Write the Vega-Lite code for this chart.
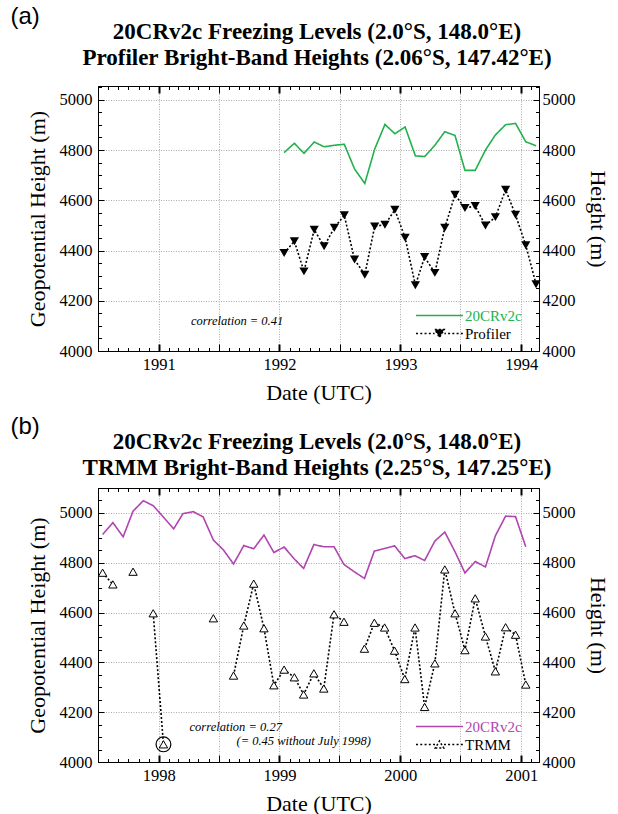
{
  "$schema": "https://vega.github.io/schema/vega-lite/v6.json",
  "padding": {"left": 10, "top": 4, "right": 2, "bottom": 0},
  "spacing": 10,
  "resolve": {"scale": {"color": "independent", "strokeDash": "independent"}, "legend": {"color": "independent", "strokeDash": "independent"}},
  "datasets": {
    "top": [
      {"d": "1992-01-15", "s": "20CRv2c", "v": 4790}, {"d": "1992-02-15", "s": "20CRv2c", "v": 4827}, {"d": "1992-03-15", "s": "20CRv2c", "v": 4787}, {"d": "1992-04-15", "s": "20CRv2c", "v": 4832}, {"d": "1992-05-15", "s": "20CRv2c", "v": 4813}, {"d": "1992-06-15", "s": "20CRv2c", "v": 4819}, {"d": "1992-07-15", "s": "20CRv2c", "v": 4823}, {"d": "1992-08-15", "s": "20CRv2c", "v": 4725}, {"d": "1992-09-15", "s": "20CRv2c", "v": 4667}, {"d": "1992-10-15", "s": "20CRv2c", "v": 4804}, {"d": "1992-11-15", "s": "20CRv2c", "v": 4902}, {"d": "1992-12-15", "s": "20CRv2c", "v": 4865},
      {"d": "1993-01-15", "s": "20CRv2c", "v": 4892}, {"d": "1993-02-15", "s": "20CRv2c", "v": 4777}, {"d": "1993-03-15", "s": "20CRv2c", "v": 4774}, {"d": "1993-04-15", "s": "20CRv2c", "v": 4819}, {"d": "1993-05-15", "s": "20CRv2c", "v": 4873}, {"d": "1993-06-15", "s": "20CRv2c", "v": 4858}, {"d": "1993-07-15", "s": "20CRv2c", "v": 4719}, {"d": "1993-08-15", "s": "20CRv2c", "v": 4719}, {"d": "1993-09-15", "s": "20CRv2c", "v": 4800}, {"d": "1993-10-15", "s": "20CRv2c", "v": 4860}, {"d": "1993-11-15", "s": "20CRv2c", "v": 4901}, {"d": "1993-12-15", "s": "20CRv2c", "v": 4906},
      {"d": "1994-01-15", "s": "20CRv2c", "v": 4833}, {"d": "1994-02-15", "s": "20CRv2c", "v": 4817},
      {"d": "1992-01-15", "s": "Profiler", "v": 4390}, {"d": "1992-02-15", "s": "Profiler", "v": 4437}, {"d": "1992-03-15", "s": "Profiler", "v": 4317}, {"d": "1992-04-15", "s": "Profiler", "v": 4483}, {"d": "1992-05-15", "s": "Profiler", "v": 4417}, {"d": "1992-06-15", "s": "Profiler", "v": 4491}, {"d": "1992-07-15", "s": "Profiler", "v": 4540}, {"d": "1992-08-15", "s": "Profiler", "v": 4364}, {"d": "1992-09-15", "s": "Profiler", "v": 4304}, {"d": "1992-10-15", "s": "Profiler", "v": 4496}, {"d": "1992-11-15", "s": "Profiler", "v": 4503}, {"d": "1992-12-15", "s": "Profiler", "v": 4562},
      {"d": "1993-01-15", "s": "Profiler", "v": 4451}, {"d": "1993-02-15", "s": "Profiler", "v": 4262}, {"d": "1993-03-15", "s": "Profiler", "v": 4374}, {"d": "1993-04-15", "s": "Profiler", "v": 4311}, {"d": "1993-05-15", "s": "Profiler", "v": 4491}, {"d": "1993-06-15", "s": "Profiler", "v": 4622}, {"d": "1993-07-15", "s": "Profiler", "v": 4569}, {"d": "1993-08-15", "s": "Profiler", "v": 4577}, {"d": "1993-09-15", "s": "Profiler", "v": 4500}, {"d": "1993-10-15", "s": "Profiler", "v": 4533}, {"d": "1993-11-15", "s": "Profiler", "v": 4642}, {"d": "1993-12-15", "s": "Profiler", "v": 4542},
      {"d": "1994-01-15", "s": "Profiler", "v": 4421}, {"d": "1994-02-15", "s": "Profiler", "v": 4266}
    ],
    "bot": [
      {"d": "1997-07-15", "s": "20CRv2c", "v": 4913}, {"d": "1997-08-15", "s": "20CRv2c", "v": 4961}, {"d": "1997-09-15", "s": "20CRv2c", "v": 4904}, {"d": "1997-10-15", "s": "20CRv2c", "v": 5007}, {"d": "1997-11-15", "s": "20CRv2c", "v": 5049}, {"d": "1997-12-15", "s": "20CRv2c", "v": 5029},
      {"d": "1998-01-15", "s": "20CRv2c", "v": 4983}, {"d": "1998-02-15", "s": "20CRv2c", "v": 4936}, {"d": "1998-03-15", "s": "20CRv2c", "v": 4997}, {"d": "1998-04-15", "s": "20CRv2c", "v": 5005}, {"d": "1998-05-15", "s": "20CRv2c", "v": 4984}, {"d": "1998-06-15", "s": "20CRv2c", "v": 4891}, {"d": "1998-07-15", "s": "20CRv2c", "v": 4852}, {"d": "1998-08-15", "s": "20CRv2c", "v": 4795}, {"d": "1998-09-15", "s": "20CRv2c", "v": 4869}, {"d": "1998-10-15", "s": "20CRv2c", "v": 4856}, {"d": "1998-11-15", "s": "20CRv2c", "v": 4911}, {"d": "1998-12-15", "s": "20CRv2c", "v": 4841},
      {"d": "1999-01-15", "s": "20CRv2c", "v": 4863}, {"d": "1999-02-15", "s": "20CRv2c", "v": 4815}, {"d": "1999-03-15", "s": "20CRv2c", "v": 4777}, {"d": "1999-04-15", "s": "20CRv2c", "v": 4873}, {"d": "1999-05-15", "s": "20CRv2c", "v": 4864}, {"d": "1999-06-15", "s": "20CRv2c", "v": 4864}, {"d": "1999-07-15", "s": "20CRv2c", "v": 4793}, {"d": "1999-08-15", "s": "20CRv2c", "v": 4764}, {"d": "1999-09-15", "s": "20CRv2c", "v": 4737}, {"d": "1999-10-15", "s": "20CRv2c", "v": 4847}, {"d": "1999-11-15", "s": "20CRv2c", "v": 4857}, {"d": "1999-12-15", "s": "20CRv2c", "v": 4868},
      {"d": "2000-01-15", "s": "20CRv2c", "v": 4817}, {"d": "2000-02-15", "s": "20CRv2c", "v": 4828}, {"d": "2000-03-15", "s": "20CRv2c", "v": 4809}, {"d": "2000-04-15", "s": "20CRv2c", "v": 4887}, {"d": "2000-05-15", "s": "20CRv2c", "v": 4923}, {"d": "2000-06-15", "s": "20CRv2c", "v": 4844}, {"d": "2000-07-15", "s": "20CRv2c", "v": 4759}, {"d": "2000-08-15", "s": "20CRv2c", "v": 4805}, {"d": "2000-09-15", "s": "20CRv2c", "v": 4783}, {"d": "2000-10-15", "s": "20CRv2c", "v": 4908}, {"d": "2000-11-15", "s": "20CRv2c", "v": 4987}, {"d": "2000-12-15", "s": "20CRv2c", "v": 4985},
      {"d": "2001-01-15", "s": "20CRv2c", "v": 4864},
      {"d": "1997-07-15", "s": "TRMM", "v": 4760}, {"d": "1997-08-15", "s": "TRMM", "v": 4713}, {"d": "1997-09-15", "s": "TRMM", "v": null}, {"d": "1997-10-15", "s": "TRMM", "v": 4764}, {"d": "1997-11-15", "s": "TRMM", "v": null}, {"d": "1997-12-15", "s": "TRMM", "v": 4597},
      {"d": "1998-01-15", "s": "TRMM", "v": 4071}, {"d": "1998-02-15", "s": "TRMM", "v": null}, {"d": "1998-03-15", "s": "TRMM", "v": null}, {"d": "1998-04-15", "s": "TRMM", "v": null}, {"d": "1998-05-15", "s": "TRMM", "v": null}, {"d": "1998-06-15", "s": "TRMM", "v": 4577}, {"d": "1998-07-15", "s": "TRMM", "v": null}, {"d": "1998-08-15", "s": "TRMM", "v": 4347}, {"d": "1998-09-15", "s": "TRMM", "v": 4548}, {"d": "1998-10-15", "s": "TRMM", "v": 4716}, {"d": "1998-11-15", "s": "TRMM", "v": 4537}, {"d": "1998-12-15", "s": "TRMM", "v": 4308},
      {"d": "1999-01-15", "s": "TRMM", "v": 4371}, {"d": "1999-02-15", "s": "TRMM", "v": 4340}, {"d": "1999-03-15", "s": "TRMM", "v": 4271}, {"d": "1999-04-15", "s": "TRMM", "v": 4356}, {"d": "1999-05-15", "s": "TRMM", "v": 4295}, {"d": "1999-06-15", "s": "TRMM", "v": 4593}, {"d": "1999-07-15", "s": "TRMM", "v": 4563}, {"d": "1999-08-15", "s": "TRMM", "v": null}, {"d": "1999-09-15", "s": "TRMM", "v": 4455}, {"d": "1999-10-15", "s": "TRMM", "v": 4559}, {"d": "1999-11-15", "s": "TRMM", "v": 4540}, {"d": "1999-12-15", "s": "TRMM", "v": 4447},
      {"d": "2000-01-15", "s": "TRMM", "v": 4333}, {"d": "2000-02-15", "s": "TRMM", "v": 4540}, {"d": "2000-03-15", "s": "TRMM", "v": 4221}, {"d": "2000-04-15", "s": "TRMM", "v": 4396}, {"d": "2000-05-15", "s": "TRMM", "v": 4773}, {"d": "2000-06-15", "s": "TRMM", "v": 4597}, {"d": "2000-07-15", "s": "TRMM", "v": 4449}, {"d": "2000-08-15", "s": "TRMM", "v": 4657}, {"d": "2000-09-15", "s": "TRMM", "v": 4504}, {"d": "2000-10-15", "s": "TRMM", "v": 4364}, {"d": "2000-11-15", "s": "TRMM", "v": 4541}, {"d": "2000-12-15", "s": "TRMM", "v": 4511},
      {"d": "2001-01-15", "s": "TRMM", "v": 4311}
    ],
    "topNote": [{"d": "1991-04-08", "v": 4119, "t": "correlation = 0.41"}],
    "botNote": [{"d": "1998-04-04", "v": 4140, "t": "correlation = 0.27"}, {"d": "1998-08-24", "v": 4084, "t": "(= 0.45 without July 1998)"}],
    "circ": [{"d": "1998-01-15", "v": 4071}]
  },
  "vconcat": [
    {
      "title": {"text": "(a)", "anchor": "start", "frame": "bounds", "font": "Liberation Sans", "fontSize": 24, "fontWeight": "normal", "offset": -8, "dx": -15},
      "resolve": {"scale": {"color": "independent", "strokeDash": "independent"}, "legend": {"color": "independent", "strokeDash": "independent"}},
      "vconcat": [
        {
          "width": 441, "height": 265,
          "title": {"text": ["20CRv2c Freezing Levels (2.0°S, 148.0°E)", "Profiler Bright-Band Heights (2.06°S, 147.42°E)"], "font": "Liberation Serif", "fontSize": 23, "fontWeight": "bold", "lineHeight": 26, "anchor": "middle", "frame": "bounds", "offset": 9},
          "resolve": {"scale": {"x": "independent", "y": "independent"}},
          "layer": [
            {
              "data": {"name": "top"},
              "mark": {"type": "line", "strokeWidth": 1.6, "invalid": "break-paths-filter-domains"},
              "encoding": {
                "x": {"field": "d", "type": "temporal", "scale": {"type": "utc", "domain": [{"year": 1990, "month": 7, "date": 1, "utc": true}, {"year": 1994, "month": 2, "date": 24, "utc": true}]},
                  "axis": {"title": "Date (UTC)", "tickCount": {"interval": "month", "step": 1}, "labelExpr": "utcmonth(datum.value) === 0 ? utcFormat(datum.value, '%Y') : ''", "labelFont": "Liberation Serif", "labelBaseline": "top", "labelPadding": 12, "titlePadding": 6,
                    "grid": true, "gridOpacity": {"condition": {"test": "utcmonth(datum.value) % 6 === 0", "value": 1}, "value": 0},
                    "tickSize": {"condition": {"test": "utcmonth(datum.value) % 6 === 0", "value": -7}, "value": -3.5},
                    "tickWidth": {"condition": {"test": "utcmonth(datum.value) === 0", "value": 2}, "value": 1}}},
                "y": {"field": "v", "type": "quantitative", "scale": {"domain": [4000, 5055], "nice": false, "zero": false},
                  "axis": {"title": "Geopotential Height (m)", "values": [4000, 4050, 4100, 4150, 4200, 4250, 4300, 4350, 4400, 4450, 4500, 4550, 4600, 4650, 4700, 4750, 4800, 4850, 4900, 4950, 5000, 5050],
                    "labelExpr": "datum.value % 200 === 0 ? format(datum.value, 'd') : ''", "labelFont": "Liberation Serif", "labelPadding": 12, "titlePadding": 10,
                    "grid": true, "gridOpacity": {"condition": {"test": "datum.value % 200 === 0 && datum.value > 4000", "value": 1}, "value": 0},
                    "tickSize": {"condition": {"test": "datum.value % 200 === 0", "value": -6}, "value": -3.5}}},
                "color": {"field": "s", "type": "nominal", "scale": {"domain": ["20CRv2c", "Profiler"], "range": ["#22b14c", "black"]},
                  "legend": {"orient": "bottom-right", "offset": 9, "title": "\u00a0", "titleOrient": "right", "titleFontSize": 10, "titlePadding": 8, "symbolSize": 2209, "clipHeight": 15, "rowPadding": 2, "labelFont": "Liberation Serif", "labelFontSize": 15, "labelOffset": 1,
                    "encode": {
                      "symbols": {"update": {
                        "shape": {"signal": "datum.value === 'Profiler' ? 'M-1,0H-0.909M-0.818,0H-0.727M-0.636,0H-0.545M-0.455,0H-0.364M-0.273,0H-0.21M0.21,0H0.273M0.364,0H0.455M0.545,0H0.636M0.727,0H0.818M0.909,0H1M-0.2,-0.17H0.2L0,0.17Z' : 'M-1,0H1'"},
                        "stroke": {"signal": "datum.value === 'Profiler' ? 'black' : '#22b14c'"},
                        "fill": {"signal": "datum.value === 'Profiler' ? 'black' : 'transparent'"},
                        "strokeWidth": {"value": 1.5}, "strokeDash": {"value": [1, 0]}, "opacity": {"value": 1}}},
                      "labels": {"update": {"fill": {"signal": "datum.value === 'Profiler' ? 'black' : '#22b14c'"}, "font": {"value": "Liberation Serif"}, "fontSize": {"value": 15}}}}}},
                "strokeDash": {"field": "s", "type": "nominal", "scale": {"domain": ["20CRv2c", "Profiler"], "range": [[1, 0], [2, 2]]}, "legend": null}
              }
            },
            {
              "data": {"name": "top"},
              "transform": [{"filter": "datum.s === 'Profiler'"}],
              "mark": {"type": "point", "shape": "triangle-down", "filled": true, "color": "black", "size": 85, "opacity": 1},
              "encoding": {
                "x": {"field": "d", "type": "temporal", "scale": {"type": "utc", "domain": [{"year": 1990, "month": 7, "date": 1, "utc": true}, {"year": 1994, "month": 2, "date": 24, "utc": true}]},
                  "axis": {"orient": "top", "title": null, "labels": false, "grid": false, "tickCount": {"interval": "month", "step": 1},
                    "tickSize": {"condition": {"test": "utcmonth(datum.value) % 6 === 0", "value": -7}, "value": -3.5},
                    "tickWidth": {"condition": {"test": "utcmonth(datum.value) === 0", "value": 2}, "value": 1}}},
                "y": {"field": "v", "type": "quantitative", "scale": {"domain": [4000, 5055], "nice": false, "zero": false},
                  "axis": {"orient": "right", "title": "Height (m)", "grid": false, "values": [4000, 4050, 4100, 4150, 4200, 4250, 4300, 4350, 4400, 4450, 4500, 4550, 4600, 4650, 4700, 4750, 4800, 4850, 4900, 4950, 5000, 5050],
                    "labelExpr": "datum.value % 200 === 0 ? format(datum.value, 'd') : ''", "labelFont": "Liberation Serif", "labelPadding": 9, "titlePadding": 10,
                    "tickSize": {"condition": {"test": "datum.value % 200 === 0", "value": -6}, "value": -3.5}}}
              }
            },
            {
              "data": {"name": "topNote"},
              "mark": {"type": "text", "font": "Liberation Serif", "fontStyle": "italic", "fontSize": 12.5, "align": "left", "baseline": "middle", "color": "black"},
              "encoding": {
                "x": {"field": "d", "type": "temporal", "scale": {"type": "utc", "domain": [{"year": 1990, "month": 7, "date": 1, "utc": true}, {"year": 1994, "month": 2, "date": 24, "utc": true}]}, "axis": null},
                "y": {"field": "v", "type": "quantitative", "scale": {"domain": [4000, 5055], "nice": false, "zero": false}, "axis": null},
                "text": {"field": "t"}
              }
            }
          ]
        }
      ]
    },
    {
      "title": {"text": "(b)", "anchor": "start", "frame": "bounds", "font": "Liberation Sans", "fontSize": 24, "fontWeight": "normal", "offset": -8, "dx": -15},
      "resolve": {"scale": {"color": "independent", "strokeDash": "independent"}, "legend": {"color": "independent", "strokeDash": "independent"}},
      "vconcat": [
        {
          "width": 441, "height": 274,
          "title": {"text": ["20CRv2c Freezing Levels (2.0°S, 148.0°E)", "TRMM Bright-Band Heights (2.25°S, 147.25°E)"], "font": "Liberation Serif", "fontSize": 23, "fontWeight": "bold", "lineHeight": 26, "anchor": "middle", "frame": "bounds", "offset": 0},
          "resolve": {"scale": {"x": "independent", "y": "independent"}},
          "layer": [
            {
              "data": {"name": "bot"},
              "mark": {"type": "line", "strokeWidth": 1.6, "invalid": "break-paths-filter-domains"},
              "encoding": {
                "x": {"field": "d", "type": "temporal", "scale": {"type": "utc", "domain": [{"year": 1997, "month": 7, "date": 1, "utc": true}, {"year": 2001, "month": 2, "date": 24, "utc": true}]},
                  "axis": {"title": "Date (UTC)", "tickCount": {"interval": "month", "step": 1}, "labelExpr": "utcmonth(datum.value) === 0 ? utcFormat(datum.value, '%Y') : ''", "labelFont": "Liberation Serif", "labelBaseline": "top", "labelPadding": 12, "titlePadding": 6,
                    "grid": true, "gridOpacity": {"condition": {"test": "utcmonth(datum.value) % 6 === 0", "value": 1}, "value": 0},
                    "tickSize": {"condition": {"test": "utcmonth(datum.value) % 6 === 0", "value": -7}, "value": -3.5},
                    "tickWidth": {"condition": {"test": "utcmonth(datum.value) === 0", "value": 2}, "value": 1}}},
                "y": {"field": "v", "type": "quantitative", "scale": {"domain": [4000, 5100], "nice": false, "zero": false},
                  "axis": {"title": "Geopotential Height (m)", "values": [4000, 4050, 4100, 4150, 4200, 4250, 4300, 4350, 4400, 4450, 4500, 4550, 4600, 4650, 4700, 4750, 4800, 4850, 4900, 4950, 5000, 5050, 5100],
                    "labelExpr": "datum.value % 200 === 0 ? format(datum.value, 'd') : ''", "labelFont": "Liberation Serif", "labelPadding": 12, "titlePadding": 10,
                    "grid": true, "gridOpacity": {"condition": {"test": "datum.value % 200 === 0 && datum.value > 4000", "value": 1}, "value": 0},
                    "tickSize": {"condition": {"test": "datum.value % 200 === 0", "value": -6}, "value": -3.5}}},
                "color": {"field": "s", "type": "nominal", "scale": {"domain": ["20CRv2c", "TRMM"], "range": ["#b044b0", "black"]},
                  "legend": {"orient": "bottom-right", "offset": 9, "title": "\u00a0", "titleOrient": "right", "titleFontSize": 10, "titlePadding": 8, "symbolSize": 2209, "clipHeight": 15, "rowPadding": 2, "labelFont": "Liberation Serif", "labelFontSize": 15, "labelOffset": 1,
                    "encode": {
                      "symbols": {"update": {
                        "shape": {"signal": "datum.value === 'TRMM' ? 'M-1,0H-0.909M-0.818,0H-0.727M-0.636,0H-0.545M-0.455,0H-0.364M-0.273,0H-0.19M0.19,0H0.273M0.364,0H0.455M0.545,0H0.636M0.727,0H0.818M0.909,0H1M-0.18,0.15H0.18L0,-0.15Z' : 'M-1,0H1'"},
                        "stroke": {"signal": "datum.value === 'TRMM' ? 'black' : '#b044b0'"},
                        "fill": {"signal": "datum.value === 'TRMM' ? 'white' : 'transparent'"},
                        "strokeWidth": {"value": 1.5}, "strokeDash": {"value": [1, 0]}, "opacity": {"value": 1}}},
                      "labels": {"update": {"fill": {"signal": "datum.value === 'TRMM' ? 'black' : '#b044b0'"}, "font": {"value": "Liberation Serif"}, "fontSize": {"value": 15}}}}}},
                "strokeDash": {"field": "s", "type": "nominal", "scale": {"domain": ["20CRv2c", "TRMM"], "range": [[1, 0], [2, 2]]}, "legend": null}
              }
            },
            {
              "data": {"name": "bot"},
              "transform": [{"filter": "datum.s === 'TRMM' && datum.v != null"}],
              "mark": {"type": "point", "shape": "triangle-up", "filled": true, "fill": "white", "stroke": "black", "strokeWidth": 1, "size": 70, "opacity": 1},
              "encoding": {
                "x": {"field": "d", "type": "temporal", "scale": {"type": "utc", "domain": [{"year": 1997, "month": 7, "date": 1, "utc": true}, {"year": 2001, "month": 2, "date": 24, "utc": true}]},
                  "axis": {"orient": "top", "title": null, "labels": false, "grid": false, "tickCount": {"interval": "month", "step": 1},
                    "tickSize": {"condition": {"test": "utcmonth(datum.value) % 6 === 0", "value": -7}, "value": -3.5},
                    "tickWidth": {"condition": {"test": "utcmonth(datum.value) === 0", "value": 2}, "value": 1}}},
                "y": {"field": "v", "type": "quantitative", "scale": {"domain": [4000, 5100], "nice": false, "zero": false},
                  "axis": {"orient": "right", "title": "Height (m)", "grid": false, "values": [4000, 4050, 4100, 4150, 4200, 4250, 4300, 4350, 4400, 4450, 4500, 4550, 4600, 4650, 4700, 4750, 4800, 4850, 4900, 4950, 5000, 5050, 5100],
                    "labelExpr": "datum.value % 200 === 0 ? format(datum.value, 'd') : ''", "labelFont": "Liberation Serif", "labelPadding": 9, "titlePadding": 10,
                    "tickSize": {"condition": {"test": "datum.value % 200 === 0", "value": -6}, "value": -3.5}}}
              }
            },
            {
              "data": {"name": "circ"},
              "mark": {"type": "point", "shape": "circle", "filled": false, "stroke": "black", "strokeWidth": 1.2, "size": 220, "opacity": 1},
              "encoding": {
                "x": {"field": "d", "type": "temporal", "scale": {"type": "utc", "domain": [{"year": 1997, "month": 7, "date": 1, "utc": true}, {"year": 2001, "month": 2, "date": 24, "utc": true}]}, "axis": null},
                "y": {"field": "v", "type": "quantitative", "scale": {"domain": [4000, 5100], "nice": false, "zero": false}, "axis": null}
              }
            },
            {
              "data": {"name": "botNote"},
              "mark": {"type": "text", "font": "Liberation Serif", "fontStyle": "italic", "fontSize": 12.5, "align": "left", "baseline": "middle", "color": "black"},
              "encoding": {
                "x": {"field": "d", "type": "temporal", "scale": {"type": "utc", "domain": [{"year": 1997, "month": 7, "date": 1, "utc": true}, {"year": 2001, "month": 2, "date": 24, "utc": true}]}, "axis": null},
                "y": {"field": "v", "type": "quantitative", "scale": {"domain": [4000, 5100], "nice": false, "zero": false}, "axis": null},
                "text": {"field": "t"}
              }
            }
          ]
        }
      ]
    }
  ],
  "config": {
    "font": "Liberation Serif",
    "view": {"stroke": "black", "strokeWidth": 1},
    "style": {"guide-label": {"font": "Liberation Serif"}, "guide-title": {"font": "Liberation Serif"}},
    "axis": {"domainColor": "black", "tickColor": "black", "labelColor": "black", "titleColor": "black", "labelFont": "Liberation Serif", "titleFont": "Liberation Serif", "labelFontSize": 16.5, "titleFontSize": 22, "titleFontWeight": "normal", "gridColor": "#aaaaaa", "gridDash": [1, 1.5], "labelOverlap": false, "labelFlush": false, "labelBound": false},
    "legend": {"labelFont": "Liberation Serif", "titleFont": "Liberation Serif"},
    "title": {"color": "black"}
  }
}
